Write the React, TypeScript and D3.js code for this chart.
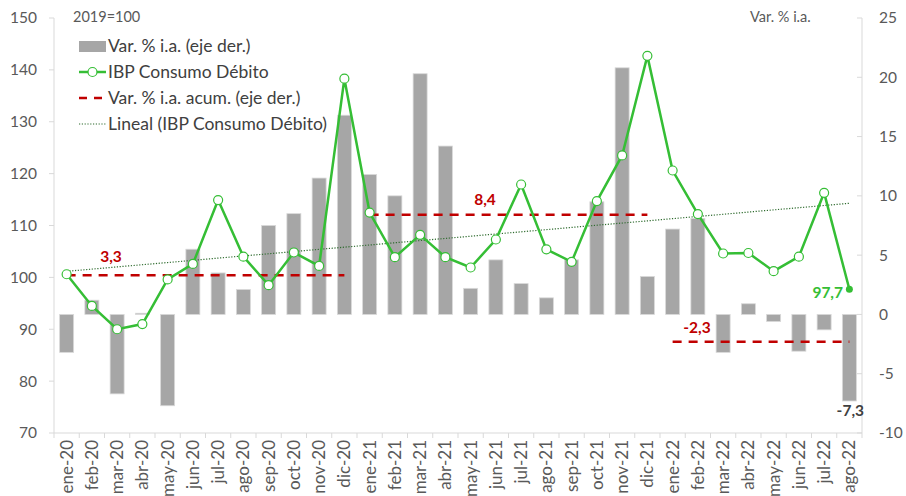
import React from "react";
import * as d3 from "d3";

const months = [
  "ene-20", "feb-20", "mar-20", "abr-20", "may-20", "jun-20", "jul-20", "ago-20",
  "sep-20", "oct-20", "nov-20", "dic-20", "ene-21", "feb-21", "mar-21", "abr-21",
  "may-21", "jun-21", "jul-21", "ago-21", "sep-21", "oct-21", "nov-21", "dic-21",
  "ene-22", "feb-22", "mar-22", "abr-22", "may-22", "jun-22", "jul-22", "ago-22",
];

// IBP Consumo Débito (2019=100), eje izq.
const ibp = [
  100.6, 94.5, 90.0, 91.0, 99.6, 102.6, 114.9, 104.0,
  98.5, 104.8, 102.2, 138.3, 112.5, 103.9, 108.2, 103.9,
  101.9, 107.3, 117.9, 105.4, 103.0, 114.7, 123.5, 142.7,
  120.6, 112.2, 104.6, 104.7, 101.2, 104.0, 116.3, 97.7,
];

// Var. % i.a., eje der.
const varIa = [
  -3.2, 1.2, -6.7, 0.1, -7.7, 5.5, 3.5, 2.1,
  7.5, 8.5, 11.5, 16.8, 11.8, 10.0, 20.3, 14.2,
  2.2, 4.6, 2.6, 1.4, 4.6, 9.5, 20.8, 3.2,
  7.2, 8.1, -3.2, 0.9, -0.6, -3.1, -1.3, -7.3,
];

// Var. % i.a. acumulada por año
const acum = [
  { from: "ene-20", to: "dic-20", value: 3.3, label: "3,3" },
  { from: "ene-21", to: "dic-21", value: 8.4, label: "8,4" },
  { from: "ene-22", to: "ago-22", value: -2.3, label: "-2,3" },
];

const leftTicks = [70, 80, 90, 100, 110, 120, 130, 140, 150];
const rightTicks = [-10, -5, 0, 5, 10, 15, 20, 25];

const W = 906;
const H = 496;
const m = { left: 54, right: 862, top: 18, bottom: 433 };
const FONT = "Lato, 'Open Sans', sans-serif";
const GREEN = "#35BE35";
const RED = "#C00000";
const BAR = "#A6A6A6";
const AXIS_TXT = "#595959";
const TREND = "#2E6B2E";

export default function App() {
  const x = d3.scaleBand().domain(months).range([m.left, m.right]).paddingInner(0).paddingOuter(0);
  const cx = (d: string) => (x(d) as number) + x.bandwidth() / 2;
  const yL = d3.scaleLinear().domain([70, 150]).range([m.bottom, m.top]);
  const yR = d3.scaleLinear().domain([-10, 25]).range([m.bottom, m.top]);
  const barW = 14;

  const line = d3
    .line<number>()
    .x((_, i) => cx(months[i]))
    .y((d) => yL(d));

  // linear trend (least squares) of IBP
  const n = ibp.length;
  const xs = d3.range(n);
  const mx = d3.mean(xs) as number;
  const my = d3.mean(ibp) as number;
  const slope =
    d3.sum(xs, (i) => (i - mx) * (ibp[i] - my)) / d3.sum(xs, (i) => (i - mx) * (i - mx));
  const icpt = my - slope * mx;

  const legendRows = [
    { y: 46, text: "Var. % i.a. (eje der.)", kind: "bar" },
    { y: 72, text: "IBP Consumo Débito", kind: "line" },
    { y: 98, text: "Var. % i.a. acum. (eje der.)", kind: "dash" },
    { y: 124, text: "Lineal (IBP Consumo Débito)", kind: "dot" },
  ];

  const last = n - 1;

  return (
    <svg
      width={W}
      height={H}
      style={{ position: "absolute", left: 0, top: 0, background: "#fff", fontFamily: FONT }}
    >
      {/* bars */}
      {varIa.map((v, i) => (
        <rect
          key={months[i]}
          x={cx(months[i]) - barW / 2}
          y={Math.min(yR(v), yR(0))}
          width={barW}
          height={Math.abs(yR(v) - yR(0))}
          fill={BAR}
          stroke="#D9D9D9"
          strokeWidth={0.8}
        />
      ))}

      {/* axes */}
      <line x1={m.left} x2={m.left} y1={m.top} y2={m.bottom} stroke="#D9D9D9" />
      <line x1={m.right} x2={m.right} y1={m.top} y2={m.bottom} stroke="#D9D9D9" />
      <line x1={m.left} x2={m.right} y1={m.bottom} y2={m.bottom} stroke="#D9D9D9" />
      {leftTicks.map((t) => (
        <g key={"l" + t}>
          <line x1={m.left - 5} x2={m.left} y1={yL(t)} y2={yL(t)} stroke="#D9D9D9" />
          <text x={37} y={yL(t)} dy="0.35em" textAnchor="end" fontSize={15.5} fill={AXIS_TXT}>
            {t}
          </text>
        </g>
      ))}
      {rightTicks.map((t) => (
        <g key={"r" + t}>
          <line x1={m.right - 5} x2={m.right} y1={yR(t)} y2={yR(t)} stroke="#D9D9D9" />
          <text x={879} y={yR(t)} dy="0.35em" textAnchor="start" fontSize={15.5} fill={AXIS_TXT}>
            {t}
          </text>
        </g>
      ))}
      {d3.range(n + 1).map((i) => {
        const xx = m.left + i * x.bandwidth();
        return <line key={"xt" + i} x1={xx} x2={xx} y1={m.bottom} y2={m.bottom + 5} stroke="#D9D9D9" />;
      })}
      {months.map((mo) => (
        <text
          key={"xl" + mo}
          transform={`translate(${cx(mo)},${m.bottom + 7}) rotate(-90)`}
          textAnchor="end"
          dy="0.35em"
          fontSize={17}
          fill={AXIS_TXT}
        >
          {mo}
        </text>
      ))}

      {/* acumulado dashed lines */}
      {acum.map((a) => (
        <line
          key={a.label}
          x1={cx(a.from)}
          x2={cx(a.to)}
          y1={yR(a.value)}
          y2={yR(a.value)}
          stroke={RED}
          strokeWidth={2.5}
          strokeDasharray="9,7"
        />
      ))}

      {/* trend */}
      <line
        x1={cx(months[0])}
        x2={cx(months[last])}
        y1={yL(icpt)}
        y2={yL(icpt + slope * last)}
        stroke={TREND}
        strokeWidth={1.2}
        strokeDasharray="1.2,1.6"
      />

      {/* IBP line */}
      <path d={line(ibp) as string} fill="none" stroke={GREEN} strokeWidth={2.5} />
      {ibp.map((v, i) =>
        i === last ? (
          <circle key={"p" + i} cx={cx(months[i])} cy={yL(v)} r={3.5} fill={GREEN} />
        ) : (
          <circle key={"p" + i} cx={cx(months[i])} cy={yL(v)} r={4.5} fill="#fff" stroke={GREEN} strokeWidth={1.2} />
        )
      )}

      {/* data labels */}
      <text x={111} y={257} dy="0.35em" textAnchor="middle" fontSize={15.5} fontWeight="bold" fill={RED}>
        {acum[0].label}
      </text>
      <text x={485} y={200} dy="0.35em" textAnchor="middle" fontSize={15.5} fontWeight="bold" fill={RED}>
        {acum[1].label}
      </text>
      <text x={697} y={328} dy="0.35em" textAnchor="middle" fontSize={15.5} fontWeight="bold" fill={RED}>
        {acum[2].label}
      </text>
      <text x={843} y={yL(ibp[last]) + 3} dy="0.35em" textAnchor="end" fontSize={15.5} fontWeight="bold" fill={GREEN}>
        {String(ibp[last]).replace(".", ",")}
      </text>
      <text x={864} y={411} dy="0.35em" textAnchor="end" fontSize={15.5} fontWeight="bold" fill="#404040">
        {String(varIa[last]).replace(".", ",")}
      </text>

      {/* titles */}
      <text x={73} y={17} dy="0.35em" fontSize={14.5} fill={AXIS_TXT}>
        2019=100
      </text>
      <text x={750} y={17} dy="0.35em" fontSize={14.5} fill={AXIS_TXT}>
        Var. % i.a.
      </text>

      {/* legend */}
      {legendRows.map((r) => (
        <g key={r.text}>
          {r.kind === "bar" && <rect x={79} y={r.y - 5} width={27} height={11} fill={BAR} />}
          {r.kind === "line" && (
            <g>
              <line x1={79} x2={106} y1={r.y} y2={r.y} stroke={GREEN} strokeWidth={2.5} />
              <circle cx={92.5} cy={r.y} r={4.5} fill="#fff" stroke={GREEN} strokeWidth={1.2} />
            </g>
          )}
          {r.kind === "dash" && (
            <line x1={79} x2={106} y1={r.y} y2={r.y} stroke={RED} strokeWidth={2.5} strokeDasharray="8,7" />
          )}
          {r.kind === "dot" && (
            <line x1={79} x2={106} y1={r.y} y2={r.y} stroke={TREND} strokeWidth={1.2} strokeDasharray="1.2,1.6" />
          )}
          <text x={108} y={r.y} dy="0.35em" fontSize={17.5} fill="#404040">
            {r.text}
          </text>
        </g>
      ))}
    </svg>
  );
}
